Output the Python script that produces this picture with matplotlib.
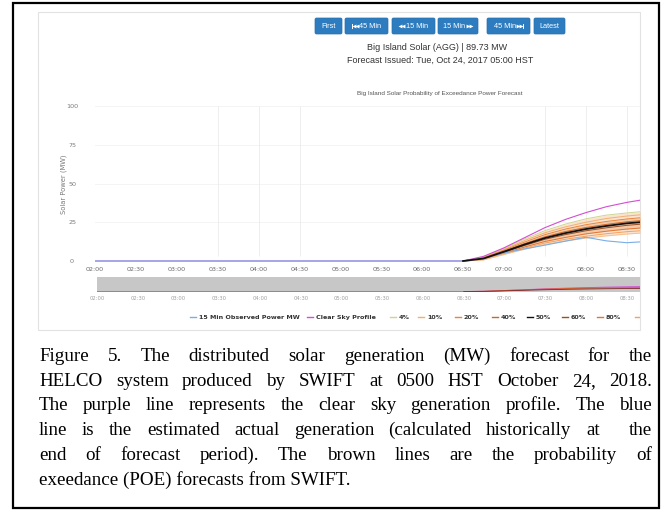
"""Big Island Solar POE forecast panel with its figure caption."""

import matplotlib

matplotlib.use("Agg")
import matplotlib.pyplot as plt
import numpy as np
from matplotlib.patches import FancyBboxPatch, Rectangle

FIG_W, FIG_H, DPI = 665, 513, 100

# observed / clear-sky series, 15-min steps
TIMES = [
    "02:00", "02:15", "02:30", "02:45", "03:00", "03:15", "03:30", "03:45",
    "04:00", "04:15", "04:30", "04:45", "05:00", "05:15", "05:30", "05:45",
    "06:00", "06:15", "06:30", "06:45", "07:00", "07:15", "07:30", "07:45",
    "08:00", "08:15", "08:30", "08:45",
]
OBSERVED_MW = [
    0.0, 0.0, 0.0, 0.0, 0.0, 0.0, 0.0, 0.0, 0.0, 0.0, 0.0, 0.0, 0.0, 0.0,
    0.0, 0.0, 0.0, 0.0, 0.0, 1.8, 5.2, 7.8, 10.2, 12.8, 15.3, 13.0, 11.8, 12.6,
]
CLEAR_SKY_MW = [
    0.0, 0.0, 0.0, 0.0, 0.0, 0.0, 0.0, 0.0, 0.0, 0.0, 0.0, 0.0, 0.0, 0.0,
    0.0, 0.0, 0.0, 0.0, 0.0, 3.0, 8.5, 15.0, 21.5, 26.8, 31.2, 35.0, 37.8, 40.0,
]

# probability-of-exceedance forecasts start at sunrise
POE_TIMES = ["06:30", "06:45", "07:00", "07:15", "07:30", "07:45", "08:00", "08:15", "08:30", "08:45"]
POE_04 = [0.0, 2.6, 8.2, 14.2, 19.6, 23.8, 27.2, 29.6, 31.0, 32.2]
POE_10 = [0.0, 2.3, 7.5, 13.2, 18.2, 22.0, 25.0, 27.4, 29.0, 30.2]
POE_20 = [0.0, 2.0, 7.0, 12.2, 17.0, 20.6, 23.4, 25.5, 27.1, 28.3]
POE_40 = [0.0, 1.8, 6.4, 11.2, 15.6, 19.0, 21.6, 23.6, 25.3, 26.4]
POE_50 = [0.0, 1.6, 6.0, 10.6, 14.8, 18.0, 20.6, 22.6, 24.3, 25.4]
POE_60 = [0.0, 1.4, 5.6, 10.0, 14.0, 17.0, 19.5, 21.4, 23.0, 24.1]
POE_80 = [0.0, 1.1, 5.0, 9.0, 12.6, 15.2, 17.5, 19.2, 20.6, 21.6]
POE_90 = [0.0, 0.9, 4.6, 8.3, 11.6, 14.0, 16.0, 17.6, 18.9, 19.8]
POE_96 = [0.0, 0.7, 4.2, 7.6, 10.7, 12.9, 14.8, 16.2, 17.4, 18.3]

X_TICKS = ["02:00", "02:30", "03:00", "03:30", "04:00", "04:30", "05:00",
           "05:30", "06:00", "06:30", "07:00", "07:30", "08:00", "08:30"]
X_GRID = ["03:30", "04:00", "04:30", "07:30", "08:00", "08:30"]
Y_TICKS = [0, 25, 50, 75, 100]

BUTTON_LABELS = ["First", "45 Min", "15 Min", "15 Min", "45 Min", "Latest"]
BUTTON_ICONS = [None, "skip_back", "back", "forward", "skip_forward", None]
LEGEND_LABELS = ["15 Min Observed Power MW", "Clear Sky Profile", "4%", "10%", "20%",
                 "40%", "50%", "60%", "80%", "90%"]

TITLE = "Big Island Solar (AGG) | 89.73 MW"
ISSUED = "Forecast Issued: Tue, Oct 24, 2017 05:00 HST"
CHART_TITLE = "Big Island Solar Probability of Exceedance Power Forecast"
Y_LABEL = "Solar Power (MW)"

CAPTION_LINES = [
    "Figure 5. The distributed solar generation (MW) forecast for the",
    "HELCO system produced by SWIFT at 0500 HST October 24, 2018.",
    "The purple line represents the clear sky generation profile. The blue",
    "line is the estimated actual generation (calculated historically at  the",
    "end of forecast period). The brown lines are the probability of",
    "exeedance (POE) forecasts from SWIFT.",
]

# styling
OBS_COLOR = "#7aaee8"
CLEAR_COLOR = "#d24fd2"
POE_COLORS = ["#cdd68f", "#f3ae70", "#e8843c", "#c8692a", "#111111",
              "#9a4e24", "#e27432", "#f2a260", "#f6c08c"]
BUTTON_SPANS = [(315, 342), (345, 388), (392, 435), (438, 478), (487, 530), (534, 565)]
LEGEND_X = [190, 307, 390, 418, 455, 492, 527, 562, 597, 635]

X0_PX = 95.0          # pixel of 02:00
PX_PER_HOUR = 81.8
Y0_PX = 261.0         # pixel of 0 MW
PX_PER_MW = 1.55


def to_hours(labels):
    return np.array([int(s[:2]) + int(s[3:]) / 60.0 for s in labels])


def px_rect(x0, y0, x1, y1):
    return [x0 / FIG_W, 1 - y1 / FIG_H, (x1 - x0) / FIG_W, (y1 - y0) / FIG_H]


def x_limits(x0_px, x1_px):
    return (2.0 + (x0_px - X0_PX) / PX_PER_HOUR, 2.0 + (x1_px - X0_PX) / PX_PER_HOUR)


def draw_justified(ax, renderer, line, x0, x1, y, **kw):
    words = line.split(" ")
    texts = [ax.text(0, y, w, **kw) for w in words]
    widths = [t.get_window_extent(renderer).width for t in texts]
    gap = (x1 - x0 - sum(widths)) / (len(words) - 1)
    x = x0
    for t, w in zip(texts, widths):
        t.set_x(x)
        x += w + gap


def draw_icon(ax, kind, x, y):
    """Media-style arrows; x is the left edge of the icon in pixels."""
    marker = "<" if "back" in kind else ">"
    style = dict(color="white", linestyle="none", markersize=2.8, markeredgewidth=0)
    if kind == "skip_back":
        ax.plot([x + 0.5, x + 0.5], [y - 1.8, y + 1.8], color="white", linewidth=0.7)
        ax.plot([x + 2.5, x + 5.0], [y, y], marker=marker, **style)
    elif kind == "skip_forward":
        ax.plot([x + 0.8, x + 3.3], [y, y], marker=marker, **style)
        ax.plot([x + 5.2, x + 5.2], [y - 1.8, y + 1.8], color="white", linewidth=0.7)
    else:
        ax.plot([x + 1.4, x + 3.9], [y, y], marker=marker, **style)


fig = plt.figure(figsize=(FIG_W / DPI, FIG_H / DPI), dpi=DPI)
renderer = fig.canvas.get_renderer()
bg = fig.add_axes([0, 0, 1, 1], zorder=0)
bg.set_xlim(0, FIG_W)
bg.set_ylim(FIG_H, 0)
bg.axis("off")

# outer frame and screenshot panel
bg.add_patch(Rectangle((13, 3), 646, 505, fill=False, edgecolor="black", linewidth=1.6))
panel = Rectangle((38, 12), 602, 318, facecolor="white", edgecolor="#e2e2e2", linewidth=0.8)
bg.add_patch(panel)

# navigation buttons
for label, icon, (x0, x1) in zip(BUTTON_LABELS, BUTTON_ICONS, BUTTON_SPANS):
    bg.add_patch(FancyBboxPatch((x0, 18), x1 - x0, 16, boxstyle="round,pad=0,rounding_size=1.5",
                                facecolor="#2d7cbf", edgecolor="#2a72b0", linewidth=0.5))
    mid = (x0 + x1) / 2
    cy = 26.2
    tx = bg.text(mid, cy, label, ha="center", va="center", fontsize=5.3,
                 color="white", family="Liberation Sans")
    if icon is None:
        continue
    w = tx.get_window_extent(renderer).width
    total = w + 7.5
    if icon in ("skip_back", "back"):
        draw_icon(bg, icon, mid - total / 2, cy)
        tx.set_x(mid - total / 2 + 7.5 + w / 2)
    else:
        tx.set_x(mid - total / 2 + w / 2)
        draw_icon(bg, icon, mid - total / 2 + w + 1.5, cy)

bg.text(437, 47, TITLE, ha="center", va="center", fontsize=6.5, color="#333333", family="Liberation Sans")
bg.text(440, 60, ISSUED, ha="center", va="center", fontsize=6.5, color="#333333", family="Liberation Sans")
bg.text(440, 93, CHART_TITLE, ha="center", va="center", fontsize=4.6, color="#555555", family="Liberation Sans")
bg.text(64, 184, Y_LABEL, ha="center", va="center", rotation=90, fontsize=4.9, color="#7a7a7a")

# main chart
ax = fig.add_axes(px_rect(X0_PX, 100, 640, 264), zorder=2)
ax.set_facecolor("none")
for spine in ax.spines.values():
    spine.set_visible(False)
ax.set_xlim(*x_limits(X0_PX, 640))
ax.set_ylim((Y0_PX - 264) / PX_PER_MW, (Y0_PX - 100) / PX_PER_MW)

for v in Y_TICKS[1:]:
    ax.axhline(v, color="#f3f3f3", linewidth=0.6, zorder=0)
ax.vlines(to_hours(X_GRID), 3, 100, color="#ebebeb", linewidth=0.6, zorder=0)

t_all = to_hours(TIMES)
t_poe = to_hours(POE_TIMES)
poe = [POE_04, POE_10, POE_20, POE_40, POE_50, POE_60, POE_80, POE_90, POE_96]

ax.fill_between(t_poe, POE_96, POE_04, color="#f5c397", alpha=0.45, linewidth=0, zorder=1)
ax.fill_between(t_poe, POE_80, POE_20, color="#e89a5e", alpha=0.35, linewidth=0, zorder=1)
ax.plot(t_all, CLEAR_SKY_MW, color=CLEAR_COLOR, linewidth=0.8, zorder=3)
ax.plot(t_all, OBSERVED_MW, color=OBS_COLOR, linewidth=0.8, zorder=3)
for series, color in zip(poe, POE_COLORS):
    lw = 1.3 if color == "#111111" else 0.7
    ax.plot(t_poe, series, color=color, linewidth=lw, zorder=4 if lw > 1 else 2)

ax.set_xticks(to_hours(X_TICKS), X_TICKS)
ax.set_yticks(Y_TICKS, [str(v) for v in Y_TICKS])
ax.tick_params(axis="x", length=0, pad=2.0, labelsize=4.6, labelcolor="#6a6a6a")
ax.tick_params(axis="y", length=0, pad=16.5, labelsize=4.6, labelcolor="#7a7a7a")
for lbl in ax.get_yticklabels():
    lbl.set_horizontalalignment("center")

# navigator strip
nav = fig.add_axes(px_rect(97, 277, 640, 292), zorder=2)
nav.set_facecolor("#c7c7c7")
for spine in nav.spines.values():
    spine.set_visible(False)
nav.set_xlim(*x_limits(97, 640))
nav.set_ylim(-3, 115)
nav.plot(t_all, CLEAR_SKY_MW, color=CLEAR_COLOR, linewidth=0.7)
nav.plot(t_poe, POE_04, color="#e0662a", linewidth=0.7)
nav.plot(t_poe, POE_50, color="#7a2a2a", linewidth=0.6)
nav.set_xticks(to_hours(X_TICKS), X_TICKS)
nav.set_yticks([])
nav.tick_params(axis="x", length=0, pad=3.0, labelsize=3.8, labelcolor="#a0a0a0")

# legend row, cut at the panel edge
legend_colors = [OBS_COLOR, CLEAR_COLOR] + POE_COLORS[:8]
for label, color, x in zip(LEGEND_LABELS, legend_colors, LEGEND_X):
    ln, = bg.plot([x, x + 6], [317, 317], color=color, linewidth=1.0)
    tx = bg.text(x + 9, 317.3, label, ha="left", va="center", fontsize=4.6,
                 fontweight="bold", color="#333333", clip_on=True)
    ln.set_clip_path(panel)
    tx.set_clip_path(panel)

# caption, justified like the source document
cap_kw = dict(fontsize=13.7, family="Liberation Serif", color="black", va="baseline", ha="left")
baselines = [361, 386, 410.5, 435, 460, 485]
for i, (line, y) in enumerate(zip(CAPTION_LINES, baselines)):
    if i < len(CAPTION_LINES) - 1:
        draw_justified(bg, renderer, line, 39, 652, y, **cap_kw)
    else:
        bg.text(39, y, line, **cap_kw)

fig.savefig("out.png", dpi=DPI)
plt.close(fig)
